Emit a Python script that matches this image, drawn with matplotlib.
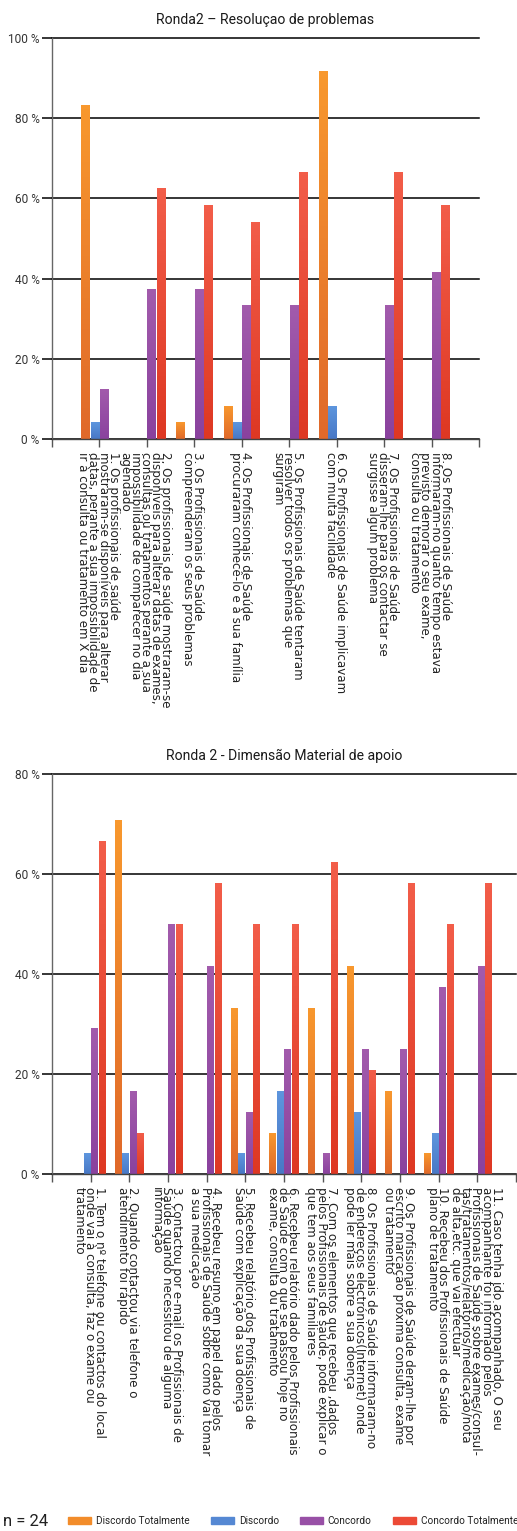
import numpy as np
import matplotlib
matplotlib.use('Agg')
import matplotlib.pyplot as plt
from matplotlib.colors import LinearSegmentedColormap
from matplotlib.patches import Patch
from matplotlib.transforms import Bbox, TransformedBbox, offset_copy

# Séries de resposta
series = ['Discordo Totalmente', 'Discordo', 'Concordo', 'Concordo Totalmente']

# Ronda 2 - Resolução de problemas (%)
resol_labels = [
    '1. Os profissionais de saúde\nmostraram-se disponíveis para alterar\ndatas, perante a sua impossibilidade de\nir à consulta ou tratamento em X dia',
    '2. Os profissionais de saúde mostraram-se\ndisponíveis para alterar datas de exames,\nconsultas ou tratamentos perante a sua\nimpossibilidade de comparecer no dia\nagendado',
    '3. Os Profissionais de Saúde\ncompreenderam os seus problemas',
    '4. Os Profissionais de Saúde\nprocuraram conhecê-lo e à sua família',
    '5. Os Profissionais de Saúde tentaram\nresolver todos os problemas que\nsurgiram',
    '6. Os Profissionais de Saúde implicavam\ncom muita facilidade',
    '7. Os Profissionais de Saúde\ndisseram-lhe para os contactar se\nsurgisse algum problema',
    '8. Os Profissionais de Saúde\ninformaram-no quanto tempo estava\nprevisto demorar o seu exame,\nconsulta ou tratamento',
]
resol_dt = [83.3, 0, 4.2, 8.3, 0, 91.7, 0, 0]
resol_d = [4.2, 0, 0, 4.2, 0, 8.3, 0, 0]
resol_c = [12.5, 37.5, 37.5, 33.3, 33.3, 0, 33.3, 41.7]
resol_ct = [0, 62.5, 58.3, 54.2, 66.7, 0, 66.7, 58.3]

# Ronda 2 - Dimensão Material de apoio (%)
mat_labels = [
    '1. Tem o nº telefone ou contactos do local\nonde vai à consulta, faz o exame ou\ntratamento',
    '2. Quando contactou via telefone o\natendimento foi rápido',
    '3. Contactou por e-mail os Profissionais de\nSaúde quando necessitou de alguma\ninformação',
    '4. Recebeu resumo em papel dado pelos\nProfissionais de Saúde sobre como vai tomar\na sua medicação',
    '5. Recebeu relatório dos Profissionais de\nSaúde com explicação da sua doença',
    '6. Recebeu relatório dado pelos Profissionais\nde Saúde com o que se passou hoje no\nexame, consulta ou tratamento',
    '7. Com os elementos que recebeu ,dados\npelos Profissionais de saúde, pode explicar o\nque tem aos seus familiares',
    '8. Os Profissionais de Saúde informaram-no\nde endereços electrónicos(Internet) onde\npode ler mais sobre a sua doença',
    '9. Os Profissionais de Saúde deram-lhe por\nescrito marcação próxima consulta, exame\nou tratamento',
    '10. Recebeu dos Profissionais de Saúde\nplano de tratamento',
    '11. Caso tenha ido acompanhado, O seu\nacompanhante foi informado pelos\nProfissionais de Saúde sobre exames/consul-\ntas/tratamentos/relatórios/medicação/nota\nde alta,etc. que vai efectuar',
]
mat_dt = [0, 70.8, 0, 0, 33.3, 8.3, 33.3, 41.7, 16.7, 4.2, 0]
mat_d = [4.2, 4.2, 0, 0, 4.2, 16.7, 0, 12.5, 0, 8.3, 0]
mat_c = [29.2, 16.7, 50, 41.7, 12.5, 25, 4.2, 25, 25, 37.5, 41.7]
mat_ct = [66.7, 8.3, 50, 58.3, 50, 50, 62.5, 20.8, 58.3, 50, 58.3]

# cores (topo, base) de cada série
cores = [('#f8982e', '#e0692a'), ('#5e96de', '#4878c6'),
         ('#a25bac', '#8a429e'), ('#f25d49', '#de3823')]
cores_leg = ['#f28c2a', '#5588d3', '#9850a6', '#ec4a36']

NARROW = ['Roboto', 'DejaVu Sans']
LABEL_FONT = ['DejaVu Sans']
LABEL_SIZE = 8.6
W = 0.195

fig = plt.figure(figsize=(5.17, 15.31), dpi=100)


def barras_gradiente(ax, x, vals, top, bottom):
    bars = ax.bar(x, vals, width=W * 0.9, color=bottom, linewidth=0, zorder=2)
    cmap = LinearSegmentedColormap.from_list('g', [bottom, top])
    grad = np.linspace(0, 1, 64).reshape(-1, 1)
    for b in bars:
        if b.get_height() <= 0:
            continue
        x0 = b.get_x()
        im = ax.imshow(grad, cmap=cmap, origin='lower', aspect='auto', zorder=2.1,
                       extent=[x0, x0 + b.get_width(), 0, b.get_height()])
        im.set_clip_path(b)


def rotulos(ax, x, labels, passo, corte=None):
    # cada linha do rótulo vertical é colocada a 'passo' píxeis da seguinte
    base = ax.get_xaxis_transform()
    for xi, lab in zip(x, labels):
        linhas = lab.split('\n')
        m = len(linhas)
        for i, linha in enumerate(linhas):
            dx = ((m - 1) / 2 - i) * passo
            tr = offset_copy(base, fig=fig, x=dx, y=-13, units='dots')
            t = ax.text(xi, 0, linha, transform=tr, rotation=-90,
                        rotation_mode='anchor', ha='left', va='center_baseline',
                        fontfamily=LABEL_FONT, fontsize=LABEL_SIZE,
                        color='#222222')
            if corte is not None:
                t.set_clip_path(None)
                t.set_clip_box(corte)
                t.set_clip_on(True)


def grafico(ax, titulo, labels, dados, ymax, corte=None):
    n = len(labels)
    x = np.arange(1, n + 1)
    for i, vals in enumerate(dados):
        barras_gradiente(ax, x + (i - 1.5) * W, vals, *cores[i])
    ax.set_xlim(0, n + 1)
    ax.set_ylim(0, ymax)
    yt = np.arange(0, ymax + 1, 20)
    ax.set_yticks(yt, [f'{v:d} %' for v in yt], fontfamily=NARROW, fontsize=8.6,
                  color='#333333')
    ax.set_xticks(x)
    ax.set_xticks([0, n + 1], minor=True)
    ax.tick_params(axis='x', which='both', direction='out', length=5.8, width=1,
                   color='#555555', labelbottom=False)
    ax.tick_params(axis='y', direction='out', length=7, width=1.1,
                   color='black', pad=2)
    rotulos(ax, x, labels, 10.2, corte)
    ax.yaxis.grid(True, color='black', linewidth=1.1, zorder=1)
    for gl in ax.get_ygridlines():
        gl.set_clip_on(False)
    ax.set_axisbelow(True)
    for s in ['top', 'right']:
        ax.spines[s].set_visible(False)
    ax.spines['left'].set_color('#666666')
    ax.spines['bottom'].set_color('#444444')
    ax.spines['left'].set_linewidth(1)
    ax.spines['bottom'].set_linewidth(1)
    ax.set_title(titulo, fontfamily=NARROW, fontsize=10.1, color='#1a1a1a', pad=10)


ax1 = fig.add_axes([52 / 517, 1 - 439 / 1531, 427 / 517, 401 / 1531])
grafico(ax1, 'Ronda2 – Resoluçao de problemas', resol_labels,
        [resol_dt, resol_d, resol_c, resol_ct], 100)

# os rótulos longos do segundo gráfico ficam cortados antes da legenda
corte = TransformedBbox(Bbox.from_extents(0, 52 / 1531, 1, 1), fig.transFigure)
ax2 = fig.add_axes([52 / 517, 1 - 1174 / 1531, 464 / 517, 400 / 1531])
grafico(ax2, 'Ronda 2 - Dimensão Material de apoio', mat_labels,
        [mat_dt, mat_d, mat_c, mat_ct], 80, corte)

y_leg = 1 - 1521 / 1531
fig.text(3 / 517, y_leg, 'n = 24', fontfamily=NARROW, fontsize=12,
         va='center', ha='left', color='#222222')
handles = [Patch(color=c) for c in cores_leg]
fig.legend(handles, series, ncol=4, loc='center left',
           bbox_to_anchor=(68 / 517, y_leg), frameon=False,
           prop={'family': NARROW, 'size': 7.2}, handlelength=2.3,
           handleheight=0.6, handletextpad=0.5, columnspacing=2.1,
           borderaxespad=0, borderpad=0, labelcolor='#222222')

fig.savefig('out.png', dpi=100)
